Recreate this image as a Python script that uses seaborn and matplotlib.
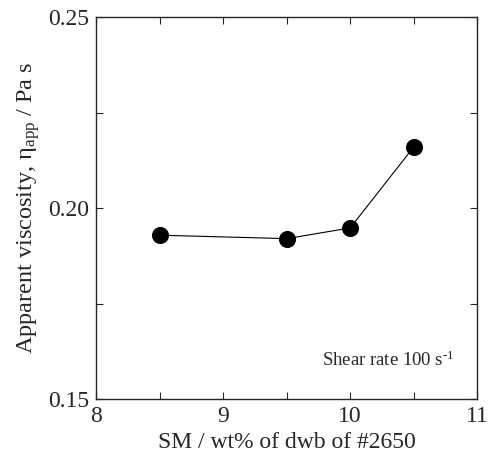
import matplotlib
matplotlib.use('Agg')
import matplotlib.pyplot as plt
import pandas as pd
import seaborn as sns
from matplotlib.ticker import MultipleLocator

# SM content vs apparent viscosity at 100 1/s
sm = [8.5, 9.5, 10.0, 10.5]
viscosity = [0.1929, 0.1920, 0.1948, 0.2160]

df = pd.DataFrame({'SM': sm, 'visc': viscosity})

sns.set_style('ticks')
plt.rcParams['font.family'] = ['Liberation Serif', 'DejaVu Serif']
plt.rcParams['mathtext.fontset'] = 'custom'
plt.rcParams['mathtext.rm'] = 'Liberation Serif'
plt.rcParams['mathtext.it'] = 'Liberation Serif:italic'

fig = plt.figure(figsize=(4.9, 4.65), dpi=100)
ax = fig.add_axes([0.196, 0.142, 0.778, 0.821])

sns.lineplot(data=df, x='SM', y='visc', ax=ax, color='black', linewidth=0.8,
             marker='o', markersize=11.5, markeredgecolor='black')

ax.set_xlim(8, 11)
ax.set_ylim(0.15, 0.25)
ax.xaxis.set_major_locator(MultipleLocator(1))
ax.xaxis.set_minor_locator(MultipleLocator(0.5))
ax.yaxis.set_major_locator(MultipleLocator(0.05))
ax.yaxis.set_minor_locator(MultipleLocator(0.025))
ax.yaxis.set_major_formatter(plt.FormatStrFormatter('%.2f'))
ax.tick_params(which='both', direction='in', top=True, right=True, length=5, width=0.8)
ax.tick_params(which='major', labelsize=17, pad=5)
for s in ax.spines.values():
    s.set_linewidth(1.0)

ax.set_xlabel('SM / wt% of dwb of #2650', fontsize=17)
ax.set_ylabel(r'Apparent viscosity, η$_{\mathrm{app}}$ / Pa s', fontsize=17.5)
ax.text(10.3, 0.16, r'Shear rate 100 s$^{\text{-1}}$', fontsize=13.5, ha='center', va='center')

fig.savefig('out.png', dpi=100)
